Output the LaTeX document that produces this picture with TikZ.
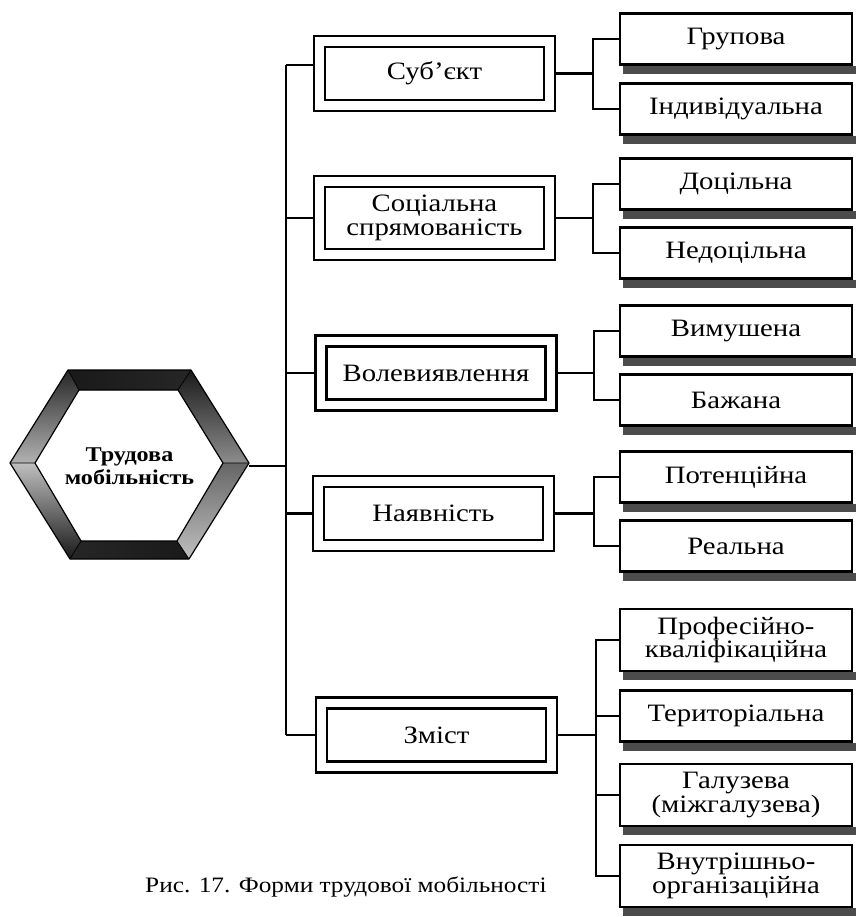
\documentclass[tikz,border=0pt]{standalone}
\usepackage{fontspec}
\setmainfont[FakeStretch=1.15]{Liberation Serif}
\usetikzlibrary{calc}
\tikzset{
  midbox/.style={draw, double, double distance=8.6pt, line width=2.4pt,
    minimum width=230pt, minimum height=64pt, outer sep=6.7pt, inner sep=0pt,
    align=center, font=\fontsize{25}{23.5}\selectfont},
  rbox/.style={draw, line width=2.4pt, minimum width=232pt, minimum height=51pt,
    inner sep=0pt, align=center, font=\fontsize{25}{23.5}\selectfont},
  rtall/.style={rbox, minimum height=62pt},
  link/.style={line width=2.2pt},
  shadowc/.style={fill=black!70},
}
\newcommand{\rshadow}[1]{\fill[shadowc] ($(#1.south west)+(4,0)$) rectangle ($(#1.south east)+(6,8)$);}
\begin{document}
\begin{tikzpicture}[x=1pt,y=-1pt]
\useasboundingbox[fill=white] (0,0) rectangle (855,917);

% hexagon frame
\coordinate (L) at (10,463);  \coordinate (TL) at (68,370); \coordinate (TR) at (191,370);
\coordinate (R) at (249,463); \coordinate (BR) at (189,559); \coordinate (BL) at (70,559);
\coordinate (l) at (35,463);  \coordinate (tl) at (79,390); \coordinate (tr) at (178,390);
\coordinate (r) at (223,463); \coordinate (br) at (177,541); \coordinate (bl) at (81,541);
\shade[left color=black!90, middle color=black!35, right color=black!85] (TL) -- (TR) -- (tr) -- (tl) -- cycle;
\shade[top color=black!90, bottom color=black!45] (TR) -- (R) -- (r) -- (tr) -- cycle;
\shade[top color=black!60, bottom color=black!25] (R) -- (BR) -- (br) -- (r) -- cycle;
\shade[left color=black!85, middle color=black!45, right color=black!90] (BR) -- (BL) -- (bl) -- (br) -- cycle;
\shade[top color=black!25, bottom color=black!90] (L) -- (BL) -- (bl) -- (l) -- cycle;
\shade[top color=black!85, bottom color=black!30] (L) -- (TL) -- (tl) -- (l) -- cycle;
\draw[line width=1.2pt, line join=round] (L) -- (TL) -- (TR) -- (R) -- (BR) -- (BL) -- cycle;
\draw[line width=1.2pt, line join=round] (l) -- (tl) -- (tr) -- (r) -- (br) -- (bl) -- cycle;
\draw[line width=0.8pt] (L) -- (l) (TL) -- (tl) (TR) -- (tr) (R) -- (r) (BR) -- (br) (BL) -- (bl);
\node[inner sep=0pt, minimum width=239pt, minimum height=190pt, align=center,
  font=\bfseries\fontsize{21}{23}\selectfont] (hex) at (129.5,466) {Трудова\\мобільність};

% middle boxes
\node[midbox] (m1) at (434.5,73.5) {Суб’єкт};
\node[midbox, minimum height=73pt] (m2) at (434.5,218) {Соціальна\\спрямованість};
\node[midbox] (m3) at (436,373) {Волевиявлення};
\node[midbox] (m4) at (433.5,513.5) {Наявність};
\node[midbox] (m5) at (436.5,735) {Зміст};

% right boxes
\node[rbox] (r1) at (736,39) {Групова};
\node[rbox] (r2) at (736,109) {Індивідуальна};
\node[rbox] (r3) at (736,184) {Доцільна};
\node[rbox] (r4) at (736,253) {Недоцільна};
\node[rbox] (r5) at (736,331) {Вимушена};
\node[rbox] (r6) at (736,400) {Бажана};
\node[rbox] (r7) at (736,477) {Потенційна};
\node[rbox] (r8) at (736,546) {Реальна};
\node[rtall] (r9) at (736,640) {Професійно-\\кваліфікаційна};
\node[rbox] (r10) at (736,716) {Територіальна};
\node[rtall] (r11) at (736,795) {Галузева\\(міжгалузева)};
\node[rtall] (r12) at (736,876) {Внутрішньо-\\організаційна};
\foreach \n in {r1,r2,r3,r4,r5,r6,r7,r8,r9,r10,r11,r12} {\rshadow{\n}}

% trunk
\coordinate (trtop) at (286,65);
\draw[link] (hex.east) -- (hex.east -| trtop);
\draw[link] (trtop) -- (trtop |- m5.west);
\draw[link] (trtop) -- (trtop -| m1.west);
\foreach \m in {m2,m3,m4,m5} {\draw[link] (trtop |- \m.west) -- (\m.west);}

% brackets
\draw[link] (m1.east) -- ++(37,0) coordinate (b1);
\draw[link] (r1.west) -| (b1) |- (r2.west);
\draw[link] (m2.east) -- ++(37,0) coordinate (b2);
\draw[link] (r3.west) -| (b2) |- (r4.west);
\draw[link] (m3.east) -- ++(36,0) coordinate (b3);
\draw[link] (r5.west) -| (b3) |- (r6.west);
\draw[link] (m4.east) -- ++(39,0) coordinate (b4);
\draw[link] (r7.west) -| (b4) |- (r8.west);
\draw[link] (m5.east) -- ++(38,0) coordinate (b5);
\draw[link] (r9.west) -| (b5) |- (r12.west);
\draw[link] (b5 |- r10.west) -- (r10.west);
\draw[link] (b5 |- r11.west) -- (r11.west);

% caption
\node[font=\fontsize{22}{24}\selectfont, anchor=base west, inner sep=0pt] (cap) at (145,892) {Рис. 17. Форми трудової мобільності};
\end{tikzpicture}
\end{document}
